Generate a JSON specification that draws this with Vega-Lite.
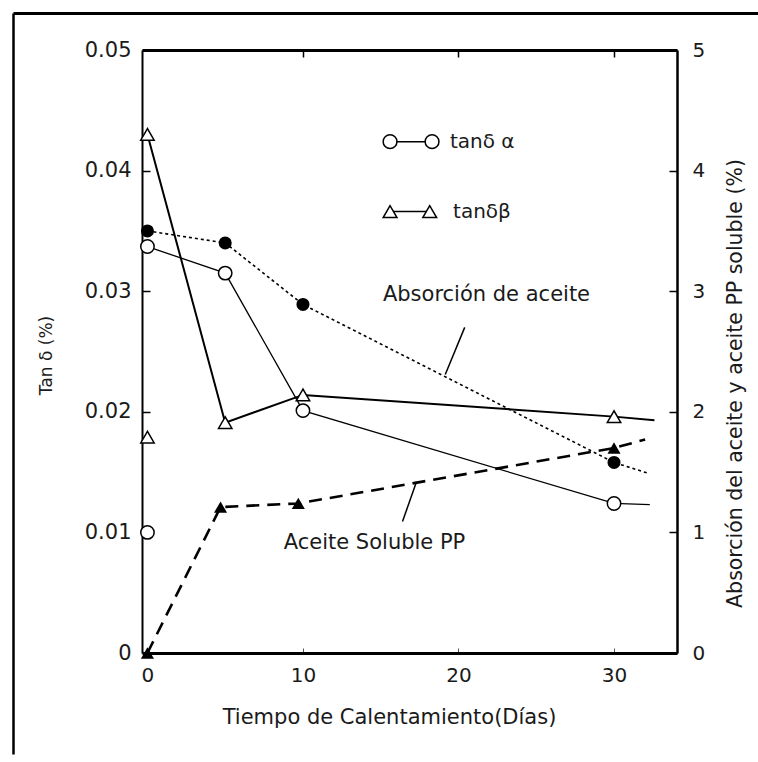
{
  "$schema": "https://vega.github.io/schema/vega-lite/v6.json",
  "width": 535,
  "height": 603,
  "autosize": {"type": "none"},
  "padding": {"left": 142, "top": 50, "right": 81, "bottom": 109},
  "background": "white",
  "config": {
    "view": {"stroke": null},
    "font": "DejaVu Sans",
    "axis": {"grid": false, "labelFont": "DejaVu Sans", "titleFont": "DejaVu Sans", "labelColor": "#1a1a1a", "titleColor": "#1a1a1a", "titleFontWeight": "normal", "domainColor": "black", "tickColor": "black", "labelFlush": false}
  },
  "datasets": {
    "tan": [
      {"serie": "tanδ α", "dia": 0, "valor": 0.0337},
      {"serie": "tanδ α", "dia": 5, "valor": 0.0315},
      {"serie": "tanδ α", "dia": 10, "valor": 0.0201},
      {"serie": "tanδ α", "dia": 30, "valor": 0.0124},
      {"serie": "tanδ α", "dia": 32.3, "valor": 0.0123},
      {"serie": "tanδβ", "dia": 0, "valor": 0.0430},
      {"serie": "tanδβ", "dia": 5, "valor": 0.0191},
      {"serie": "tanδβ", "dia": 10, "valor": 0.0214},
      {"serie": "tanδβ", "dia": 30, "valor": 0.0196},
      {"serie": "tanδβ", "dia": 32.6, "valor": 0.0193}
    ],
    "tan_inicial": [
      {"serie": "tanδ α", "dia": 0, "valor": 0.0100},
      {"serie": "tanδβ", "dia": 0, "valor": 0.0179}
    ],
    "leyenda": [
      {"serie": "tanδ α", "x1": 15.6, "x2": 18.3, "xt": 19.45, "valor": 0.0424},
      {"serie": "tanδβ", "x1": 15.6, "x2": 18.15, "xt": 19.65, "valor": 0.0366}
    ],
    "pct": [
      {"serie": "Absorción de aceite", "dia": 0, "valor": 3.50},
      {"serie": "Absorción de aceite", "dia": 5, "valor": 3.40},
      {"serie": "Absorción de aceite", "dia": 10, "valor": 2.89},
      {"serie": "Absorción de aceite", "dia": 30, "valor": 1.58},
      {"serie": "Absorción de aceite", "dia": 32.2, "valor": 1.49},
      {"serie": "Aceite Soluble PP", "dia": 0, "valor": 0},
      {"serie": "Aceite Soluble PP", "dia": 4.7, "valor": 1.21},
      {"serie": "Aceite Soluble PP", "dia": 9.7, "valor": 1.24},
      {"serie": "Aceite Soluble PP", "dia": 30, "valor": 1.70},
      {"serie": "Aceite Soluble PP", "dia": 32, "valor": 1.77}
    ],
    "notas": [
      {"texto": "Absorción de aceite", "dia": 21.8, "valor": 2.97},
      {"texto": "Aceite Soluble PP", "dia": 14.6, "valor": 0.91}
    ],
    "guias": [
      {"dia": 20.4, "valor": 2.70, "dia2": 19.15, "valor2": 2.31},
      {"dia": 16.4, "valor": 1.09, "dia2": 17.3, "valor2": 1.42}
    ]
  },
  "layer": [
    {
      "data": {"values": []},
      "mark": {"type": "rule"},
      "encoding": {
        "x": {"field": "a", "type": "quantitative", "scale": {"domain": [0, 1], "range": [-129, 616]},
              "axis": {"orient": "top", "offset": 37, "domainWidth": 3, "ticks": false, "labels": false, "title": null}},
        "y": {"field": "b", "type": "quantitative", "scale": {"domain": [0, 1], "range": [704, -37]},
              "axis": {"orient": "left", "offset": 129, "domainWidth": 2.5, "ticks": false, "labels": false, "title": null}}
      }
    },
    {
      "data": {"name": "pct"},
      "encoding": {
        "x": {"field": "dia", "type": "quantitative", "scale": {"domain": [-0.35, 34.05], "nice": false, "zero": false},
              "axis": {"orient": "top", "values": [10, 20, 30], "tickSize": -7, "tickWidth": 1.5, "labels": false, "title": null, "domainWidth": 3}},
        "y": {"field": "valor", "type": "quantitative", "scale": {"domain": [0, 5], "nice": false},
              "axis": {"orient": "right", "values": [0, 1, 2, 3, 4, 5], "format": "d", "tickSize": -8, "tickWidth": 1.5, "labelPadding": 23, "labelFontSize": 20, "domainWidth": 2.5,
                       "title": "Absorción del aceite y aceite PP soluble (%)", "titleFontSize": 20.5, "titleAngle": 270, "titleX": 58, "titleY": 333, "titleAlign": "center", "titleBaseline": "middle"}}
      },
      "layer": [
        {"transform": [{"filter": "datum.serie === 'Absorción de aceite'"}],
         "mark": {"type": "line", "strokeDash": [3, 3], "strokeWidth": 1.6, "color": "black"}},
        {"transform": [{"filter": "datum.serie === 'Aceite Soluble PP'"}],
         "mark": {"type": "line", "strokeDash": [13, 8], "strokeWidth": 2.6, "color": "black"}},
        {"transform": [{"filter": "datum.dia <= 30"}],
         "mark": {"type": "point", "filled": true, "color": "black", "size": 170, "opacity": 1},
         "encoding": {"shape": {"field": "serie", "type": "nominal", "scale": {"domain": ["Absorción de aceite", "Aceite Soluble PP"], "range": ["circle", "triangle-up"]}, "legend": null}}},
        {"data": {"name": "guias"},
         "mark": {"type": "rule", "strokeWidth": 1.5, "color": "black"},
         "encoding": {"x2": {"field": "dia2"}, "y2": {"field": "valor2"}}},
        {"data": {"name": "notas"},
         "mark": {"type": "text", "font": "DejaVu Sans", "fontSize": 21, "color": "#1a1a1a", "align": "center", "baseline": "middle"},
         "encoding": {"text": {"field": "texto"}}}
      ]
    },
    {
      "data": {"name": "tan"},
      "encoding": {
        "x": {"field": "dia", "type": "quantitative", "scale": {"domain": [-0.35, 34.05], "nice": false, "zero": false},
              "axis": {"orient": "bottom", "values": [0, 10, 20, 30], "format": "d", "tickSize": -5, "tickWidth": 1, "tickColor": "#555", "labelPadding": 17, "labelFontSize": 20, "domainWidth": 3,
                       "title": "Tiempo de Calentamiento(Días)", "titleFontSize": 21, "titleX": 247, "titleY": 64, "titleAlign": "center", "titleBaseline": "middle"}},
        "y": {"field": "valor", "type": "quantitative", "scale": {"domain": [0, 0.05], "nice": false},
              "axis": {"orient": "left", "values": [0, 0.01, 0.02, 0.03, 0.04, 0.05], "format": ".2~f", "tickSize": -8, "tickWidth": 1.5, "labelPadding": 19, "labelFontSize": 21, "domainWidth": 2,
                       "title": "Tan δ (%)", "titleFontSize": 17, "titleX": -96, "titleY": 305, "titleAlign": "center", "titleBaseline": "middle"}}
      },
      "layer": [
        {"transform": [{"filter": "datum.serie === 'tanδ α'"}],
         "mark": {"type": "line", "strokeWidth": 1.3, "color": "black"}},
        {"transform": [{"filter": "datum.serie === 'tanδβ'"}],
         "mark": {"type": "line", "strokeWidth": 2, "color": "black"}},
        {"data": {"name": "leyenda"},
         "mark": {"type": "rule", "strokeWidth": 1.5, "color": "black"},
         "encoding": {"x": {"field": "x1", "type": "quantitative"}, "x2": {"field": "x2"}}},
        {"transform": [{"filter": "datum.dia <= 30"}],
         "mark": {"type": "point", "filled": true, "fill": "white", "stroke": "black", "strokeWidth": 1.5, "size": 180, "opacity": 1},
         "encoding": {"shape": {"field": "serie", "type": "nominal", "scale": {"domain": ["tanδ α", "tanδβ"], "range": ["circle", "triangle-up"]}, "legend": null}}},
        {"data": {"name": "tan_inicial"},
         "mark": {"type": "point", "filled": true, "fill": "white", "stroke": "black", "strokeWidth": 1.5, "size": 180, "opacity": 1},
         "encoding": {"shape": {"field": "serie", "type": "nominal", "scale": {"domain": ["tanδ α", "tanδβ"], "range": ["circle", "triangle-up"]}, "legend": null}}},
        {"data": {"name": "leyenda"},
         "transform": [{"fold": ["x1", "x2"], "as": ["extremo", "dia"]}],
         "mark": {"type": "point", "filled": true, "fill": "white", "stroke": "black", "strokeWidth": 1.5, "size": 190, "opacity": 1},
         "encoding": {"shape": {"field": "serie", "type": "nominal", "scale": {"domain": ["tanδ α", "tanδβ"], "range": ["circle", "triangle-up"]}, "legend": null}}},
        {"data": {"name": "leyenda"},
         "mark": {"type": "text", "font": "DejaVu Sans", "fontSize": 20, "color": "#1a1a1a", "align": "left", "baseline": "middle"},
         "encoding": {"x": {"field": "xt", "type": "quantitative"}, "text": {"field": "serie"}}}
      ]
    }
  ],
  "resolve": {
    "scale": {"x": "independent", "y": "independent", "shape": "independent"},
    "axis": {"x": "independent", "y": "independent"}
  }
}
